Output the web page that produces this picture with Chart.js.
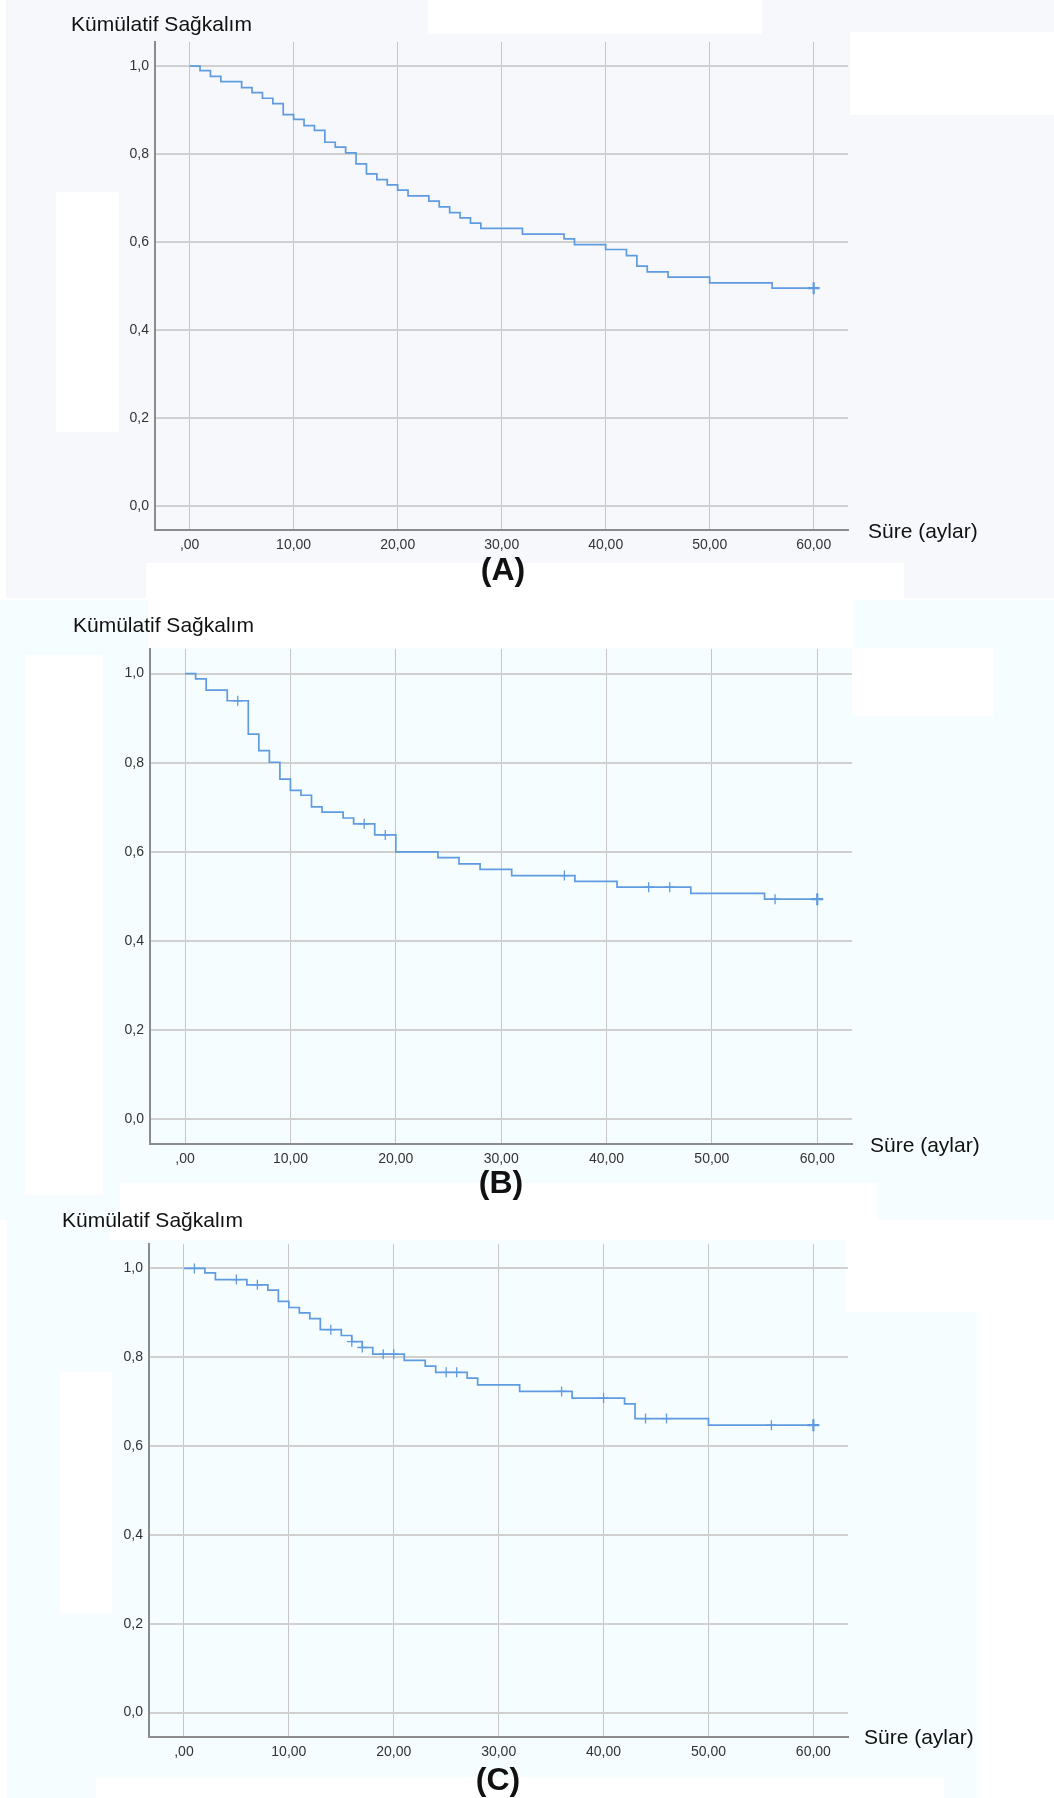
<!DOCTYPE html>
<html>
<head>
<meta charset="utf-8">
<script src="https://cdn.jsdelivr.net/npm/chart.js@4.4.1/dist/chart.umd.min.js"></script>
<style>
html,body{margin:0;padding:0;background:#fff;}
body{width:1054px;height:1798px;position:relative;overflow:hidden;font-family:"Liberation Sans",Arial,sans-serif;}
.bg{position:absolute;}
canvas{position:absolute;left:0;}
.t{position:absolute;white-space:nowrap;color:#111;line-height:1;}
.ttl{font-size:21px;}
.pl{font-size:32px;font-weight:bold;width:100px;text-align:center;}
</style>
</head>
<body>
<!-- panel backgrounds -->
<div class="bg" style="left:6px;top:0;width:1048px;height:598px;background:#f7f8fc"></div>
<div class="bg" style="left:428px;top:0;width:334px;height:34px;background:#fff"></div>
<div class="bg" style="left:850px;top:32px;width:204px;height:83px;background:#fff"></div>
<div class="bg" style="left:56px;top:192px;width:63px;height:240px;background:#fff"></div>
<div class="bg" style="left:146px;top:563px;width:758px;height:37px;background:#fff"></div>

<div class="bg" style="left:0;top:600px;width:1054px;height:620px;background:#f5fdfe"></div>
<div class="bg" style="left:148px;top:600px;width:705px;height:48px;background:#fff"></div>
<div class="bg" style="left:25px;top:655px;width:78px;height:540px;background:#fff"></div>
<div class="bg" style="left:852px;top:648px;width:141px;height:68px;background:#fff"></div>
<div class="bg" style="left:120px;top:1183px;width:758px;height:37px;background:#fff"></div>

<div class="bg" style="left:7px;top:1220px;width:970px;height:578px;background:#f5fdfe"></div>
<div class="bg" style="left:110px;top:1220px;width:736px;height:20px;background:#fff"></div>
<div class="bg" style="left:846px;top:1220px;width:132px;height:92px;background:#fff"></div>
<div class="bg" style="left:60px;top:1372px;width:52px;height:241px;background:#fff"></div>
<div class="bg" style="left:96px;top:1777px;width:848px;height:21px;background:#fff"></div>

<canvas id="cA" width="1054" height="600" style="top:0px"></canvas>
<canvas id="cB" width="1054" height="600" style="top:600px"></canvas>
<canvas id="cC" width="1054" height="598" style="top:1200px"></canvas>

<div class="t ttl" style="left:71px;top:13px">Kümülatif Sağkalım</div>
<div class="t ttl" style="left:868px;top:520px">Süre (aylar)</div>
<div class="t pl" style="left:453px;top:553px">(A)</div>

<div class="t ttl" style="left:73px;top:614px">Kümülatif Sağkalım</div>
<div class="t ttl" style="left:870px;top:1134px">Süre (aylar)</div>
<div class="t pl" style="left:451px;top:1166px">(B)</div>

<div class="t ttl" style="left:62px;top:1209px">Kümülatif Sağkalım</div>
<div class="t ttl" style="left:864px;top:1726px">Süre (aylar)</div>
<div class="t pl" style="left:448px;top:1763px">(C)</div>

<script>
// ---------- data ----------
const xTickValues = [0, 10, 20, 30, 40, 50, 60];
const xTickLabels = [',00', '10,00', '20,00', '30,00', '40,00', '50,00', '60,00'];
const yTickValues = [0, 0.2, 0.4, 0.6, 0.8, 1.0];
const yTickLabels = ['0,0', '0,2', '0,4', '0,6', '0,8', '1,0'];

// Panel A
const timesA = [0,1,2,3,5,6,7,8,9,10,11,12,13,14,15,16,17,18,19,20,21,23,24,25,26,27,28,32,36,37,40,42,43,44,46,50,56,60];
const survA  = [1.0,0.990,0.977,0.965,0.951,0.940,0.927,0.915,0.890,0.879,0.865,0.854,0.827,0.816,0.803,0.778,0.755,0.742,0.730,0.718,0.705,0.693,0.680,0.667,0.655,0.643,0.631,0.618,0.607,0.594,0.583,0.569,0.545,0.532,0.520,0.507,0.495,0.495];
const censorTimesA = [60];
const censorSurvA  = [0.495];

// Panel B
const timesB = [0,1,2,4,6,7,8,9,10,11,12,13,15,16,18,20,24,26,28,31,37,41,48,55,60];
const survB  = [1.0,0.988,0.963,0.939,0.864,0.827,0.801,0.763,0.738,0.727,0.701,0.689,0.676,0.663,0.638,0.600,0.587,0.573,0.561,0.547,0.534,0.521,0.507,0.494,0.494];
const censorTimesB = [5,17,19,36,44,46,56,60];
const censorSurvB  = [0.939,0.663,0.638,0.547,0.521,0.521,0.494,0.494];

// Panel C
const timesC = [0,2,3,6,8,9,10,11,12,13,15,16,17,18,21,23,24,27,28,32,37,42,43,50,60];
const survC  = [1.0,0.990,0.975,0.963,0.951,0.926,0.912,0.900,0.887,0.862,0.849,0.835,0.822,0.807,0.793,0.780,0.766,0.753,0.738,0.723,0.708,0.695,0.662,0.647,0.647];
const censorTimesC = [1,5,7,14,16,17,19,20,25,26,36,40,44,46,56,60];
const censorSurvC  = [1.0,0.975,0.963,0.862,0.835,0.822,0.807,0.807,0.766,0.766,0.723,0.708,0.662,0.662,0.647,0.647];

// ---------- drawing ----------
const LINE = '#5f9be0';
const FONT = "'Liberation Sans', Arial, sans-serif";

function makeChart(id, times, surv, cTimes, cSurv, box) {
  const canvas = document.getElementById(id);
  const W = canvas.width, H = canvas.height;
  const nC = cTimes.length;
  return new Chart(canvas, {
    type: 'line',
    data: {
      datasets: [
        {
          data: times.map((t, i) => ({ x: t, y: surv[i] })),
          stepped: true,
          borderColor: LINE,
          borderWidth: 1.7,
          pointRadius: 0,
          fill: false,
          tension: 0
        },
        {
          type: 'scatter',
          data: cTimes.map((t, i) => ({ x: t, y: cSurv[i] })),
          showLine: false,
          pointStyle: 'cross',
          pointRadius: ctx => (ctx.dataIndex === nC - 1 ? 6 : 5),
          borderWidth: ctx => (ctx.dataIndex === nC - 1 ? 2.2 : 1.3),
          borderColor: LINE,
          backgroundColor: LINE
        }
      ]
    },
    options: {
      responsive: false,
      animation: false,
      events: [],
      layout: { padding: { left: 0, right: W - box.R, top: box.T, bottom: 0 } },
      plugins: { legend: { display: false }, tooltip: { enabled: false } },
      scales: {
        x: {
          type: 'linear',
          min: -3.33, max: 63.3,
          afterBuildTicks: s => { s.ticks = xTickValues.map(v => ({ value: v })); },
          afterFit: s => { s.height = H - box.B; },
          ticks: {
            callback: v => xTickLabels[xTickValues.indexOf(v)],
            font: { family: FONT, size: 14 },
            color: '#333333',
            padding: 7,
            maxRotation: 0
          },
          grid: { color: '#c6c6c6', lineWidth: 1, drawTicks: false },
          border: { display: true, color: '#8c8c8c', width: 2 }
        },
        y: {
          type: 'linear',
          min: -0.055, max: 1.055,
          afterBuildTicks: s => { s.ticks = yTickValues.map(v => ({ value: v })); },
          afterFit: s => { s.width = box.L; },
          ticks: {
            callback: v => yTickLabels[yTickValues.findIndex(t => Math.abs(t - v) < 1e-6)],
            font: { family: FONT, size: 14 },
            color: '#333333',
            padding: 6
          },
          grid: { color: '#d0d0d0', lineWidth: 2, drawTicks: false },
          border: { display: true, color: '#8c8c8c', width: 2 }
        }
      }
    }
  });
}

makeChart('cA', timesA, survA, censorTimesA, censorSurvA, { L: 155, R: 848, T: 42, B: 530 });
makeChart('cB', timesB, survB, censorTimesB, censorSurvB, { L: 150, R: 852, T: 49, B: 544 });
makeChart('cC', timesC, survC, censorTimesC, censorSurvC, { L: 149, R: 848, T: 44, B: 537 });
</script>
</body>
</html>
